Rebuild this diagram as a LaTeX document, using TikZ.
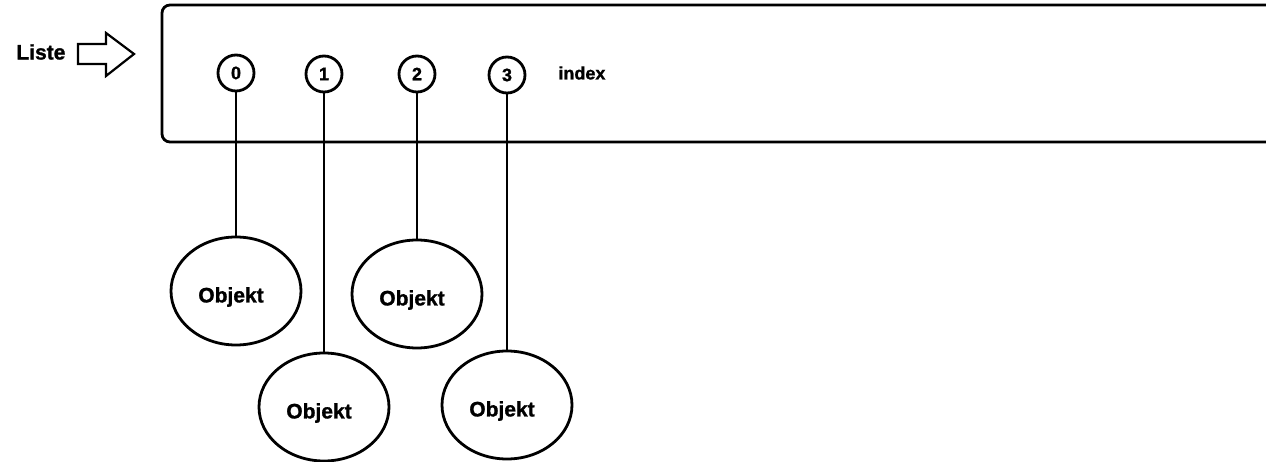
\documentclass[tikz,border=0pt]{standalone}
\usepackage{fontspec}
\setmainfont{Liberation Sans}[BoldFeatures={FakeBold=1.2}]
\usetikzlibrary{shapes.geometric}
\begin{document}
\begin{tikzpicture}[x=1pt,y=-1pt,line width=2.8pt,
  idx/.style={circle,draw,minimum size=36pt,inner sep=0pt,font=\fontsize{18}{20}\selectfont\bfseries},
  obj/.style={ellipse,draw,minimum width=130pt,minimum height=108pt,inner sep=0pt},
  lbl/.style={inner sep=0pt,font=\fontsize{21}{24}\selectfont\bfseries},
  objtext/.style={label={[lbl,xshift=-5pt,yshift=-6pt]center:Objekt}}]
\useasboundingbox (0,0) rectangle (1266,462);
% list box (open to the right)
\draw[rounded corners=8pt] (1300,5) -- (162,5) -- (162,142) -- (1300,142);
% label and outline arrow
\node[lbl,anchor=west] (liste) at (15,52) {Liste};
\draw[line width=2.2pt,line join=miter] (78,44) -- (106,44) -- (106,33) -- (134,54) -- (106,76) -- (106,64) -- (78,64) -- cycle;
% index circles
\node[idx] (i0) at (236,73) {0};
\node[idx] (i1) at (324,74) {1};
\node[idx] (i2) at (417,74) {2};
\node[idx] (i3) at (507,75) {3};
\node[lbl,anchor=west,font=\fontsize{18}{20}\selectfont\bfseries] (index) at (557,73) {index};
% objects
\node[obj,objtext] (o0) at (236,291) {};
\node[obj,objtext] (o1) at (324,407) {};
\node[obj,objtext] (o2) at (417,294) {};
\node[obj,objtext] (o3) at (507,405) {};
% connectors
\foreach \k in {0,1,2,3}{
  \draw (i\k.south) -- (o\k.north);
}
\end{tikzpicture}
\end{document}
